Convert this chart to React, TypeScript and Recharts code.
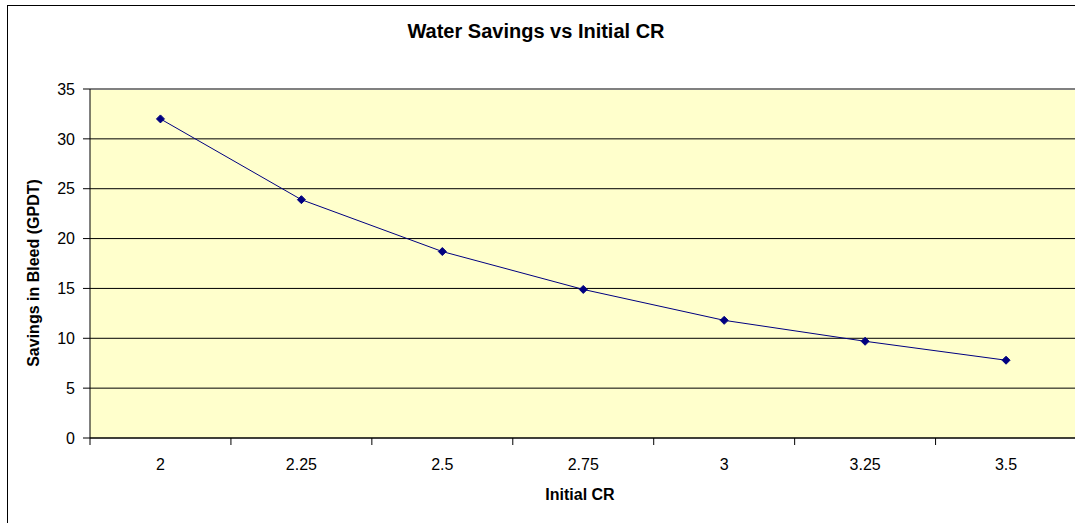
import React from "react";
import { LineChart, Line, XAxis, YAxis, CartesianGrid, ReferenceLine } from "recharts";

const crValues = [2, 2.25, 2.5, 2.75, 3, 3.25, 3.5];
const savings = [32, 23.9, 18.7, 14.9, 11.8, 9.7, 7.8];
const yTicks = [0, 5, 10, 15, 20, 25, 30, 35];

const FONT = "'Liberation Sans', Arial, sans-serif";

// excel style category axis: labels on the categories, tick marks between them
const step = crValues[1] - crValues[0];
const boundaries = [
  ...crValues.map((v) => v - step / 2),
  crValues[crValues.length - 1] + step / 2,
];
const xTicks = [...boundaries, ...crValues].sort((a, b) => a - b);

const data = crValues.map((cr, i) => ({ cr, savings: savings[i] }));

const CategoryTick = ({ x, y, payload }: any) => {
  const v = payload.value;
  if (crValues.includes(v)) {
    return (
      <text x={x} y={y + 32} textAnchor="middle" fontSize={16} fontFamily={FONT} fill="#000">
        {v}
      </text>
    );
  }
  return <line x1={x} y1={y} x2={x} y2={y + 7} stroke="#000" strokeWidth={1} />;
};

const Diamond = ({ cx, cy, index }: any) => (
  <path
    key={index}
    d={`M${cx},${cy - 4}L${cx + 4},${cy}L${cx},${cy + 4}L${cx - 4},${cy}Z`}
    fill="#000080"
    stroke="#000080"
  />
);

export default function App() {
  return (
    <div
      style={{
        position: "fixed",
        left: 0,
        top: 0,
        width: 1075,
        height: 523,
        overflow: "hidden",
        background: "#fff",
      }}
    >
      <div
        style={{
          position: "absolute",
          left: 7,
          top: 5,
          width: 1200,
          height: 700,
          border: "1px solid #000",
          boxSizing: "border-box",
        }}
      />
      <div style={{ position: "absolute", left: 0, top: 0 }}>
        <LineChart
          width={1090}
          height={523}
          data={data}
          margin={{ top: 89, right: 13.5, bottom: 55, left: 0 }}
        >
          <CartesianGrid
            vertical={false}
            stroke="#000"
            strokeWidth={1}
            fill="#FFFFCC"
            fillOpacity={1}
          />
          <ReferenceLine y={35} stroke="#808080" strokeWidth={2} />
          <XAxis
            dataKey="cr"
            type="number"
            domain={[boundaries[0], boundaries[boundaries.length - 1]]}
            ticks={xTicks}
            interval={0}
            tickLine={false}
            tickSize={0}
            tickMargin={0}
            tick={<CategoryTick />}
            axisLine={{ stroke: "#000" }}
            height={30}
          />
          <YAxis
            domain={[0, 35]}
            ticks={yTicks}
            interval={0}
            width={90}
            tickSize={7}
            tickMargin={8}
            tickLine={{ stroke: "#000" }}
            axisLine={{ stroke: "#000" }}
            tick={{ fill: "#000", fontSize: 16, fontFamily: FONT }}
          />
          <Line
            type="linear"
            dataKey="savings"
            stroke="#000080"
            strokeWidth={1}
            dot={<Diamond />}
            activeDot={false}
            isAnimationActive={false}
          />
        </LineChart>
      </div>
      <svg
        width={1075}
        height={523}
        style={{ position: "absolute", left: 0, top: 0, pointerEvents: "none" }}
      >
        <text x={536} y={38} textAnchor="middle" fontSize={20} fontWeight="bold" fontFamily={FONT}>
          Water Savings vs Initial CR
        </text>
        <text x={580} y={500} textAnchor="middle" fontSize={16} fontWeight="bold" fontFamily={FONT}>
          Initial CR
        </text>
        <text
          x={39}
          y={273}
          textAnchor="middle"
          fontSize={16}
          fontWeight="bold"
          fontFamily={FONT}
          transform="rotate(-90 39 273)"
        >
          Savings in Bleed (GPDT)
        </text>
      </svg>
    </div>
  );
}
